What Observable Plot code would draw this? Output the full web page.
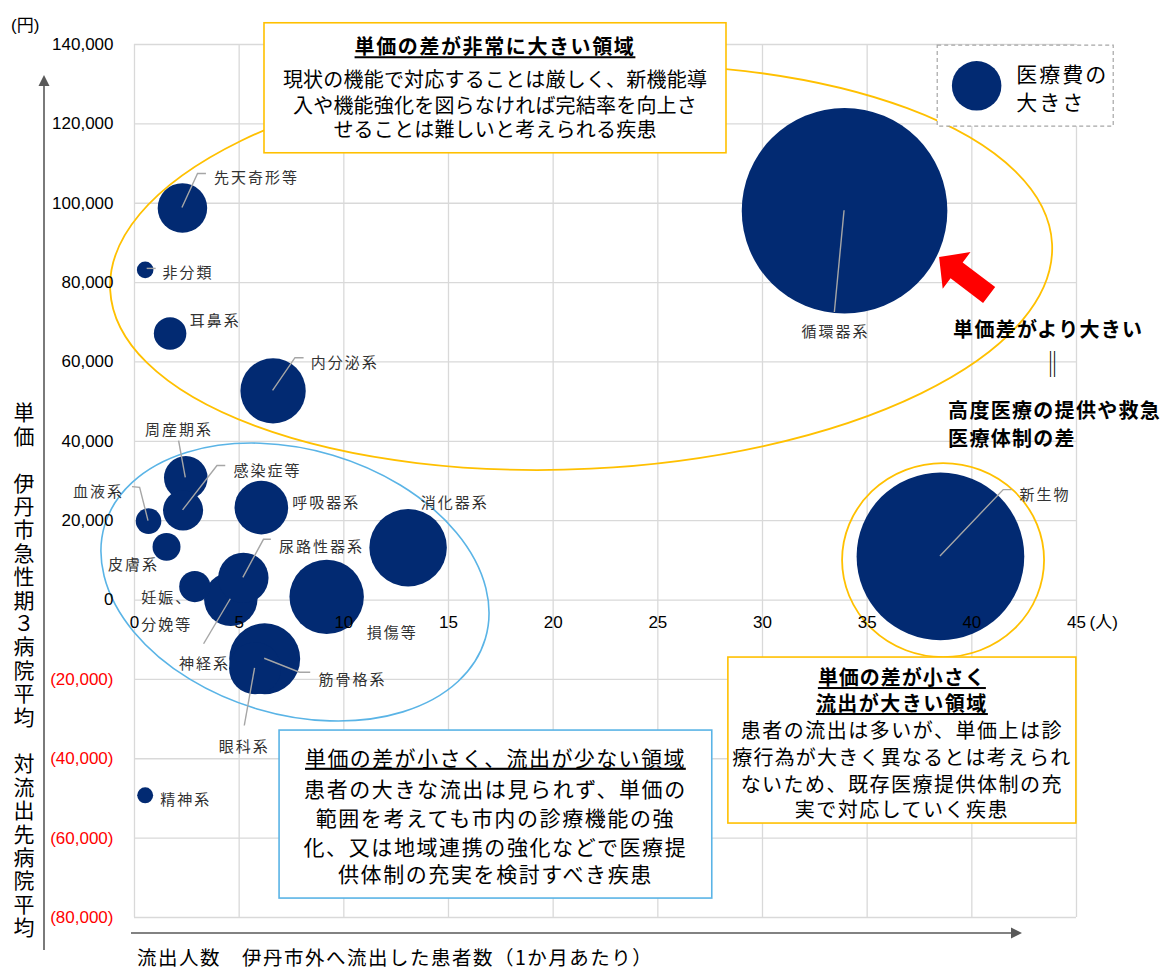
<!DOCTYPE html>
<html><head><meta charset="utf-8">
<script src="https://cdn.jsdelivr.net/npm/d3@7"></script>
<script src="https://cdn.jsdelivr.net/npm/@observablehq/plot@0.6"></script>
<style>
html,body{margin:0;padding:0;background:#fff;}
#chart{position:relative;width:1163px;height:969px;}
</style></head><body><div id="chart"></div>
<script>
// ---- data ----
const categories = ["先天奇形等","非分類","耳鼻系","内分泌系","周産期系","感染症等","血液系","皮膚系","呼吸器系","尿路性器系","妊娠、分娩等","神経系","損傷等","筋骨格系","眼科系","消化器系","循環器系","新生物","精神系"];
const outflowPatients = [2.29, 0.51, 1.70, 6.62, 2.45, 2.32, 0.67, 1.53, 6.06, 5.20, 2.88, 4.60, 9.18, 6.22, 5.76, 13.07, 33.92, 38.50, 0.51];
const unitPriceGap = [98800, 83200, 67200, 52700, 30800, 22600, 19900, 13400, 23300, 5600, 3400, 200, 800, -14800, -17200, 13200, 98100, 11000, -49200];
const medicalCost = [5.8, 0.65, 2.5, 10.1, 4.5, 3.8, 1.55, 1.85, 6.8, 6.0, 2.3, 6.75, 13.1, 11.9, 6.4, 14.2, 100, 66.5, 0.6];
const xTicks = [0,5,10,15,20,25,30,35,40,45];
const yTicks = [-80000,-60000,-40000,-20000,0,20000,40000,60000,80000,100000,120000,140000];
const legendSize = [5.8];

const data = categories.map((name,i)=>({name, x: outflowPatients[i], y: unitPriceGap[i], size: medicalCost[i]}));

// ---- label layout (pixel offsets from bubble centre) ----
const labelLayout = {
 "先天奇形等": {dx:31.6, dy:-33.3, anchor:"start", leader:[[0,0],[15.6,-34],[24,-34]]},
 "非分類": {dx:17.4, dy:0, anchor:"start", leader:[[2,-1],[11,-1]]},
 "耳鼻系": {dx:19.7, dy:-16, anchor:"start"},
 "内分泌系": {dx:37.7, dy:-31, anchor:"start", leader:[[0,0],[22.4,-32.7],[31,-32.7]]},
 "周産期系": {dx:-6.7, dy:-51.7, anchor:"middle", leader:[[0,0],[-6.7,-36.7]]},
 "感染症等": {dx:50.4, dy:-43.3, anchor:"start", leader:[[0,0],[34.4,-44.3],[42.7,-44.3]]},
 "血液系": {dx:-24.4, dy:-33, anchor:"end", leader:[[0,0],[-8.4,-33.3],[-16,-34]]},
 "皮膚系": {dx:-7.4, dy:14.3, anchor:"end"},
 "呼吸器系": {dx:31, dy:-8.4, anchor:"start"},
 "尿路性器系": {dx:35.6, dy:-34, anchor:"start", leader:[[0,0],[20.6,-38],[28,-38]]},
 "妊娠、分娩等": {dx:-28, dy:21.6, anchor:"middle", text:"妊娠、\n分娩等"},
 "神経系": {dx:-26.3, dy:61.7, anchor:"middle", leader:[[0,0],[-26.7,45]]},
 "損傷等": {dx:40, dy:32.3, anchor:"start"},
 "筋骨格系": {dx:53.7, dy:17.3, anchor:"start", leader:[[0,0],[35.3,14],[46,14]]},
 "眼科系": {dx:-10.8, dy:74.7, anchor:"middle", leader:[[0,0],[-10.3,57.7]]},
 "消化器系": {dx:12.7, dy:-48.7, anchor:"start"},
 "循環器系": {dx:-9, dy:118, anchor:"middle", leader:[[0,0],[-9.7,101.7]]},
 "新生物": {dx:79, dy:-65.3, anchor:"start", leader:[[0,0],[63.3,-66.3],[71.7,-66.3]]},
 "精神系": {dx:15, dy:0.7, anchor:"start"}
};

const NAVY = "#022a72";
const JP = "'Noto Sans CJK JP', sans-serif";
const NUM = "'Liberation Sans', Arial, sans-serif";
const fmtY = v => v < 0 ? `(${d3.format(",")(-v)})` : d3.format(",")(v);

const plot = Plot.plot({
  width: 1163, height: 969,
  marginLeft: 134, marginRight: 87, marginTop: 44, marginBottom: 52,
  x: {domain:[0,45], axis:null},
  y: {domain:[-80000,140000], axis:null},
  r: {type:"sqrt", domain:[0,100], range:[0,102.8]},
  style: {fontFamily: JP, fontSize:"15px", background:"#fff", overflow:"visible"},
  marks: [
    Plot.ruleX(xTicks, {x:d=>d, stroke:"#d9d9d9", strokeWidth:1.3}),
    Plot.ruleY(yTicks, {y:d=>d, stroke:"#d9d9d9", strokeWidth:1.3}),
    Plot.dot(data, {x:"x", y:"y", r:"size", fill:NAVY}),
    Plot.dot(legendSize, {x:()=>40.23, y:()=>129580, r:d=>d, fill:NAVY}),
    ...data.map(d => {
      const L = labelLayout[d.name];
      return Plot.text([d], {x:"x", y:"y", text:()=> L.text ?? d.name, dx:L.dx, dy:L.dy, textAnchor:L.anchor, fill:"#333", fontSize:15, lineHeight:1.78});
    }),
    Plot.text(yTicks.filter(v=>v>=0), {y:d=>d, frameAnchor:"left", textAnchor:"end", dx:-21, text:fmtY, fill:"#000", fontFamily:NUM, fontSize:17}),
    Plot.text(yTicks.filter(v=>v<0), {y:d=>d, frameAnchor:"left", textAnchor:"end", dx:-21, text:fmtY, fill:"#ff0000", fontFamily:NUM, fontSize:17}),
    Plot.text(xTicks, {x:d=>d, y:()=>0, dy:23, text:d=>String(d), fill:"#000", fontFamily:NUM, fontSize:17}),
    Plot.text(["(人)"], {x:()=>45, y:()=>0, dx:13, dy:23, text:d=>d, textAnchor:"start", fill:"#000", fontFamily:NUM+", "+JP, fontSize:17})
  ]
});
document.getElementById("chart").appendChild(plot);

const svg = d3.select(plot);
const sx = plot.scale("x"), sy = plot.scale("y");
const X = v => sx.apply(v), Y = v => sy.apply(v);

// letter spacing for bubble labels
svg.selectAll('g[aria-label="text"]').filter((_,i)=> i < data.length).selectAll("text").attr("letter-spacing", 2);

// ---- ellipses (under bubbles) ----
const ellipses = [
  {cx:21.36, cy:83790, rx:471.5, ry:201.9, angle:-2.8, stroke:"#ffc000", w:1.8},
  {cx:7.69, cy:4410, rx:198.6, ry:132.4, angle:16.6, stroke:"#5ab4e6", w:1.6},
  {cx:38.65, cy:9950, rx:101, ry:97, angle:0, stroke:"#ffc000", w:1.8}
];
const dotG = plot.querySelector('g[aria-label="dot"]');
const ellG = document.createElementNS("http://www.w3.org/2000/svg","g");
dotG.parentNode.insertBefore(ellG, dotG);
d3.select(ellG).selectAll("ellipse").data(ellipses).join("ellipse")
  .attr("cx", e=>X(e.cx)).attr("cy", e=>Y(e.cy)).attr("rx", e=>e.rx).attr("ry", e=>e.ry)
  .attr("transform", e=>`rotate(${e.angle} ${X(e.cx)} ${Y(e.cy)})`)
  .attr("fill","none").attr("stroke", e=>e.stroke).attr("stroke-width", e=>e.w);

// ---- leader lines (above bubbles) ----
const leadG = document.createElementNS("http://www.w3.org/2000/svg","g");
const dotGs = plot.querySelectorAll('g[aria-label="dot"]');
dotGs[dotGs.length-1].after(leadG);
d3.select(leadG).selectAll("path").data(data.filter(d=>labelLayout[d.name].leader)).join("path")
  .attr("d", d => d3.line()(labelLayout[d.name].leader.map(([ox,oy])=>[X(d.x)+ox, Y(d.y)+oy])))
  .attr("fill","none").attr("stroke","#a6a6a6").attr("stroke-width",1.4);

// ---- axis arrows ----
const ag = svg.append("g").attr("fill","#595959").attr("stroke","#595959");
ag.append("line").attr("x1",44).attr("y1",950).attr("x2",44).attr("y2",84).attr("stroke-width",1.6);
ag.append("path").attr("d","M44,75 L49.5,86 L38.5,86 Z").attr("stroke","none");
ag.append("line").attr("x1",131).attr("y1",933).attr("x2",1012).attr("y2",933).attr("stroke-width",1.6);
ag.append("path").attr("d","M1022,933 L1011,927.5 L1011,938.5 Z").attr("stroke","none");

// ---- axis titles ----
svg.append("text").attr("x",11).attr("y",25).attr("dominant-baseline","central").attr("text-anchor","start")
  .attr("font-family",NUM+", "+JP).attr("font-size",17).attr("fill","#000").text("(円)");
svg.append("text").attr("x",137).attr("y",956).attr("dominant-baseline","central").attr("text-anchor","start")
  .attr("font-family",JP).attr("font-size",19.5).attr("letter-spacing",1.5).attr("fill","#000")
  .text("流出人数　伊丹市外へ流出した患者数（1か月あたり）");
svg.append("text").attr("x",24).attr("y",402).attr("text-anchor","start")
  .style("writing-mode","vertical-rl").style("text-orientation","upright")
  .attr("font-family",JP).attr("font-size",21).attr("letter-spacing",2.4).attr("fill","#000")
  .text("単価　伊丹市急性期３病院平均　対流出先病院平均");

// ---- red arrow ----
(function(){
  const tip = [X(38.46), Y(86310)], tail = [X(40.85), Y(76730)];
  const dx = tip[0]-tail[0], dy = tip[1]-tail[1], len = Math.hypot(dx,dy);
  const u = [dx/len, dy/len], n = [-u[1], u[0]];
  const headLen = 22, hw = 23, w = 10;
  const B = [tip[0]-u[0]*headLen, tip[1]-u[1]*headLen];
  const P = (p, k) => [p[0]+n[0]*k, p[1]+n[1]*k];
  const pts = [P(tail,w), P(B,w), P(B,hw), tip, P(B,-hw), P(B,-w), P(tail,-w)];
  svg.append("path").attr("d", "M"+pts.map(p=>p.join(",")).join("L")+"Z").attr("fill","#ff0000");
})();

// ---- text boxes (one text element per box, one tspan per line) ----
function box(o){
  const x0 = X(o.x), y0 = Y(o.y);
  const g = svg.append("g");
  g.append("rect").attr("x",x0).attr("y",y0).attr("width",o.w).attr("height",o.h)
    .attr("fill","#fff").attr("stroke",o.stroke).attr("stroke-width",o.sw || 1.6)
    .attr("stroke-dasharray", o.dash || null);
  const t = g.append("text").attr("font-family",JP).attr("fill","#000").attr("dominant-baseline","central");
  (o.lines||[]).forEach(l => {
    const s = t.append("tspan").attr("x", x0 + (l.dx ?? o.w/2)).attr("y", y0 + l.dy)
      .attr("text-anchor", l.anchor || "middle").attr("dominant-baseline","central")
      .attr("font-size", l.size).attr("font-weight", l.bold ? "bold" : "normal")
      .attr("letter-spacing", l.ls || 0).text(l.text);
    if (l.underline) s.style("text-decoration","underline");
  });
  return g;
}

box({x:6.21, y:145350, w:462, h:130, stroke:"#ffc000", lines:[
  {text:"単価の差が非常に大きい領域", dy:22.5, size:20, bold:true, underline:true, ls:1.6},
  {text:"現状の機能で対応することは厳しく、新機能導", dy:55.5, size:20, ls:0.2},
  {text:"入や機能強化を図らなければ完結率を向上さ", dy:81.5, size:20, ls:0.2},
  {text:"せることは難しいと考えられる疾患", dy:105.5, size:20, ls:0.2}
]});

box({x:28.37, y:-14490, w:348, h:166, stroke:"#ffc000", lines:[
  {text:"単価の差が小さく", dy:19, size:20, bold:true, underline:true, ls:1},
  {text:"流出が大きい領域", dy:45, size:20, bold:true, underline:true, ls:1.5},
  {text:"患者の流出は多いが、単価上は診", dy:72, size:20, ls:1.5},
  {text:"療行為が大きく異なるとは考えられ", dy:99, size:20, ls:1.2},
  {text:"ないため、既存医療提供体制の充", dy:126, size:20, ls:1.5},
  {text:"実で対応していく疾患", dy:151, size:20, ls:1.5}
]});

box({x:6.93, y:-32890, w:432.7, h:168, stroke:"#5ab4e6", lines:[
  {text:"単価の差が小さく、流出が少ない領域", dy:26.7, size:21, underline:true, ls:1.4},
  {text:"患者の大きな流出は見られず、単価の", dy:58, size:21, ls:1.6},
  {text:"範囲を考えても市内の診療機能の強", dy:87, size:21, ls:1.6},
  {text:"化、又は地域連携の強化などで医療提", dy:116, size:21, ls:1.6},
  {text:"供体制の充実を検討すべき疾患", dy:143, size:21, ls:1.6}
]});

// legend box (dashed)
box({x:38.37, y:139740, w:176, h:81, stroke:"#a6a6a6", sw:1.2, dash:"4,3", lines:[
  {text:"医療費の", dx:79, dy:27.7, anchor:"start", size:21, ls:2},
  {text:"大きさ", dx:79, dy:55.7, anchor:"start", size:21, ls:2}
]});
// move legend dot above the legend box
const legendDot = plot.querySelectorAll('g[aria-label="dot"]')[1];
plot.appendChild(legendDot);

// ---- right-side annotation text ----
const note = [
  {t:"単価差がより大きい", x:39.13, y:68420, anchor:"start", size:20, bold:true},
  {t:"‖", x:43.91, y:59850, anchor:"middle", size:26, bold:false},
  {t:"高度医療の提供や救急", x:38.89, y:48010, anchor:"start", size:20, bold:true},
  {t:"医療体制の差", x:38.89, y:40950, anchor:"start", size:20, bold:true}
];
svg.append("g").selectAll("text").data(note).join("text")
  .attr("x", d=>X(d.x)).attr("y", d=>Y(d.y)).attr("text-anchor", d=>d.anchor)
  .attr("dominant-baseline","central").attr("font-family",JP).attr("font-size",d=>d.size)
  .attr("font-weight",d=>d.bold?"bold":"normal").attr("letter-spacing",1.3).attr("fill","#000").text(d=>d.t);
</script>
</body></html>
